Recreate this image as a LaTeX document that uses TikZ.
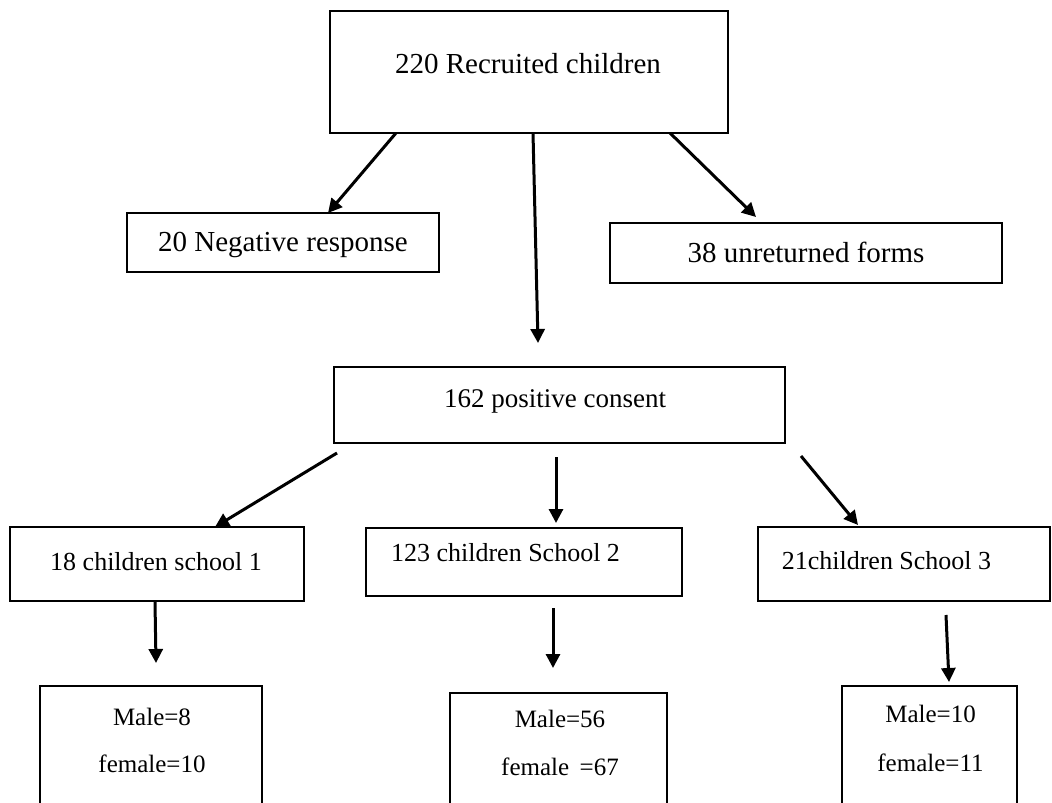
\documentclass[tikz,border=0pt]{standalone}
\usepackage{fontspec}
\setmainfont{Liberation Serif}
\usetikzlibrary{arrows.meta}
\newcommand{\tx}[3]{\raisebox{#2}[0pt][0pt]{\makebox[0pt][c]{\hspace*{#1}\hspace*{#1}#3}}}
\newcommand{\twolines}[3]{\begin{tabular}[b]{@{}c@{}}#1\\[#3]#2\end{tabular}}
\begin{document}
\begin{tikzpicture}[x=1pt,y=-1pt,
  box/.style={draw, line width=2.5pt, inner sep=0pt, outer sep=0pt},
  big/.style={font=\fontsize{29}{35}\selectfont},
  mid/.style={font=\fontsize{27}{32}\selectfont},
  sch/.style={font=\fontsize{26}{31}\selectfont},
  sml/.style={font=\fontsize{25}{30}\selectfont},
  arr/.style={line width=3pt, -{Triangle[length=14pt,width=14pt]}}]
\useasboundingbox (0,0) rectangle (1052,803);
\clip (0,0) rectangle (1052,803);
% boxes
\node[box, big, minimum width=398pt, minimum height=122pt] (top) at (529,72) {\tx{-1pt}{-1pt}{220 Recruited children}};
\node[box, big, minimum width=312pt, minimum height=59pt] (neg) at (283,242.5) {\tx{0pt}{-8.5pt}{20 Negative response}};
\node[box, big, minimum width=392pt, minimum height=60pt] (unret) at (806,253) {\tx{0pt}{-9pt}{38 unreturned forms}};
\node[box, mid, minimum width=451pt, minimum height=76pt] (pos) at (559.5,405) {\tx{-4.5pt}{-2.5pt}{162 positive consent}};
\node[box, sch, minimum width=294pt, minimum height=74pt] (s1) at (157,564) {\tx{-1pt}{-6pt}{18 children school 1}};
\node[box, sch, minimum width=316pt, minimum height=68pt] (s2) at (524,562) {\tx{-18.5pt}{1pt}{123 children School 2}};
\node[box, sch, minimum width=292pt, minimum height=74pt] (s3) at (904,564) {\tx{-17.5pt}{-5pt}{21children School 3}};
\node[box, sml, minimum width=222pt, minimum height=144pt] (b1) at (151,758) {\tx{1pt}{-14pt}{\twolines{Male=8}{female=10}{17pt}}};
\node[box, sml, minimum width=217pt, minimum height=137pt] (b2) at (558.5,761.5) {\tx{1.5pt}{-13.5pt}{\twolines{Male=56}{female \,=67}{18pt}}};
\node[box, sml, minimum width=175pt, minimum height=144pt] (b3) at (929.5,758) {\tx{1pt}{-13pt}{\twolines{Male=10}{female=11}{19pt}}};
% arrows
\draw[arr] ([xshift=-133pt]top.south) -- ([xshift=45pt]neg.north);
\draw[arr] ([xshift=4pt]top.south) -- ([xshift=-21.5pt,yshift=24pt]pos.north);
\draw[arr] ([xshift=141pt]top.south) -- ([xshift=-50pt,yshift=6pt]unret.north);
\draw[arr] ([xshift=-222.5pt,yshift=-10pt]pos.south) -- ([xshift=58pt]s1.north);
\draw[arr] ([xshift=-3.5pt,yshift=-14pt]pos.south) -- ([xshift=32pt,yshift=5pt]s2.north);
\draw[arr] ([xshift=241.5pt,yshift=-13pt]pos.south) -- ([xshift=-46pt,yshift=2pt]s3.north);
\draw[arr] ([xshift=-2pt,yshift=-1pt]s1.south) -- ([xshift=5pt,yshift=23pt]b1.north);
\draw[arr] ([xshift=29pt,yshift=-12pt]s2.south) -- ([xshift=-5.5pt,yshift=25pt]b2.north);
\draw[arr] ([xshift=42pt,yshift=-14pt]s3.south) -- ([xshift=19.5pt,yshift=4pt]b3.north);
\end{tikzpicture}
\end{document}
